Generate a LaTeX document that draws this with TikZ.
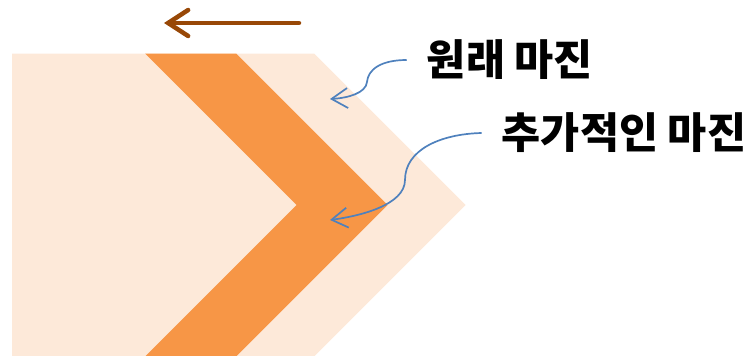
\documentclass[tikz,border=0pt]{standalone}
\usepackage{fontspec}
\newfontfamily\kr{Noto Sans CJK KR}
\usetikzlibrary{arrows.meta}
\definecolor{peach}{HTML}{FDE9D9}
\definecolor{orng}{HTML}{F79646}
\definecolor{brwn}{HTML}{984807}
\definecolor{blu}{HTML}{4F81BD}
\tikzset{
  lbl/.style={font=\kr\bfseries\fontsize{42.5}{46}\selectfont, inner sep=0pt, text=black},
  callout/.style={draw=blu, line width=1.7pt, -{Straight Barb[length=16pt,width=20pt]}},
  movearrow/.style={draw=brwn, line width=4.5pt, line cap=round, -{Straight Barb[length=20pt,width=26pt,line cap=round]}}
}
\begin{document}
\begin{tikzpicture}[x=1pt,y=-1pt]
\useasboundingbox (0,0) rectangle (756,356);
% light outer margin chevron
\fill[peach] (12,53.5) -- (314,53.5) -- (465.5,205) -- (314,356.5) -- (12,356.5) -- cycle;
% orange additional margin band
\fill[orng] (145,53.5) -- (236,53.5) -- (387.5,205) -- (236,356.5) -- (145,356.5) -- (296.5,205) -- cycle;
% direction arrow
\coordinate (a1) at (299,23);
\coordinate (a2) at (164,23);
\draw[movearrow] (a1) -- (a2);
% labels
\node[lbl] (t1) at (510,60) {원래 마진};
\node[lbl] (t2) at (624,133) {추가적인 마진};
\coordinate (p1) at (330,99);
\coordinate (p2) at (330,220);
\draw[callout] ([xshift=-20pt]t1.west) .. controls (380,60) and (368,70) .. (367,82)
   .. controls (366,93) and (348,98) .. (p1);
\draw[callout] ([xshift=-20pt]t2.west) .. controls (440,134) and (405,150) .. (405,180)
   .. controls (405,205) and (360,216) .. (p2);
\end{tikzpicture}
\end{document}
